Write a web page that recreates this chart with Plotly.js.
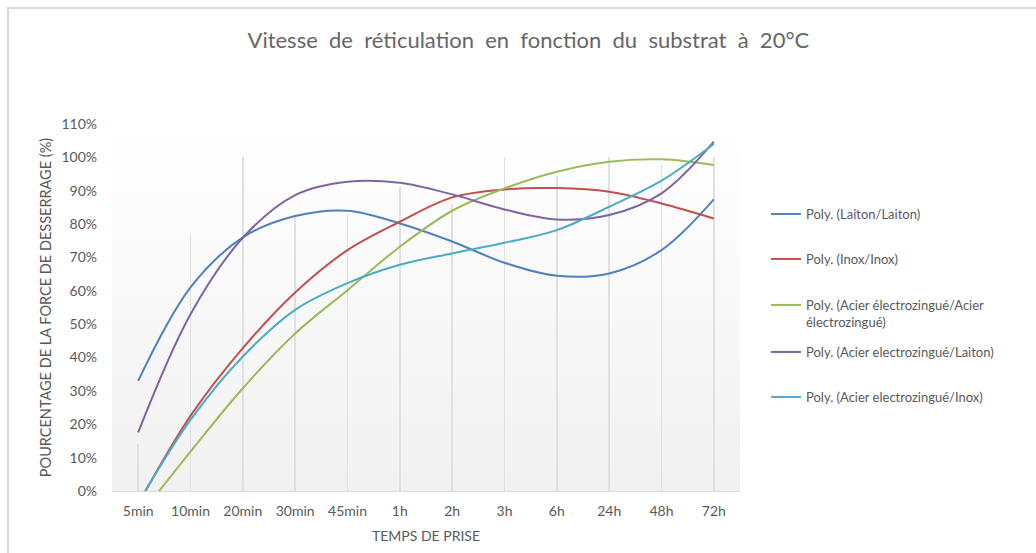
<!DOCTYPE html>
<html>
<head>
<meta charset="utf-8">
<script src="https://cdn.plot.ly/plotly-3.0.1.min.js"></script>
<style>
  html, body { margin: 0; padding: 0; background: #ffffff; }
  #frame { position: absolute; left: 7px; top: 7px; width: 1040px; height: 560px;
           border-left: 2px solid #d9d9d9; border-top: 2px solid #d9d9d9; pointer-events: none; z-index: 5; }
  #chart { position: absolute; left: 0; top: 0; width: 1036px; height: 553px; }
</style>
</head>
<body>
<div id="chart"></div>
<div id="frame"></div>
<script>
// Categories (x axis)
const categories = ["5min", "10min", "20min", "30min", "45min", "1h", "2h", "3h", "6h", "24h", "48h", "72h"];

// Light gray vertical columns (%)
const columnValues = [14, 77, 100, 82, 83, 91, 86, 100, 94.5, 100, 98, 100];

// Polynomial trendlines (%)
const laitonLaiton   = [33, 61, 76, 82.4, 84, 80.2, 74.8, 68.4, 64.5, 65.2, 72.2, 87.4];
const inoxInox       = [-4, 22.5, 42.8, 59.5, 72.2, 80.7, 88, 90.4, 90.8, 89.7, 86.2, 81.7];
const acierAcier     = [-8, 11.8, 30.8, 47.2, 60.2, 73.2, 84, 90.7, 95.7, 98.7, 99.4, 97.7];
const acierLaiton    = [17.6, 53, 75.9, 88.7, 92.7, 92.4, 88.9, 84.4, 81.4, 82.7, 89.2, 104.7];
const acierInox      = [-3.5, 21.3, 40.3, 54.3, 62.3, 67.8, 71.2, 74.4, 78.2, 85.2, 93, 104];

const seriesNames = [
  "Poly. (Laiton/Laiton)",
  "Poly. (Inox/Inox)",
  "Poly. (Acier électrozingué/Acier<br>électrozingué)",
  "Poly. (Acier electrozingué/Laiton)",
  "Poly. (Acier electrozingué/Inox)"
];
const seriesValues = [laitonLaiton, inoxInox, acierAcier, acierLaiton, acierInox];
const seriesColors = ["#4F81BD", "#C0504D", "#9BBB59", "#8064A2", "#4BACC6"];
const legendIds = ["legend", "legend2", "legend3", "legend4", "legend5"];
const legendY = [0.7956, 0.6730, 0.5477, 0.4196, 0.2970];

const FONT = "Lato, 'Open Sans', sans-serif";
const GREY = "#595959";

const traces = [{
  type: "bar",
  x: categories,
  y: columnValues,
  width: 0.034,
  marker: { color: "#e0e0e0", line: { width: 0 } },
  showlegend: false,
  hoverinfo: "skip"
}];

seriesValues.forEach((vals, i) => {
  traces.push({
    type: "scatter",
    mode: "lines",
    x: categories,
    y: vals,
    name: seriesNames[i],
    legend: legendIds[i],
    line: { color: seriesColors[i], width: 2, shape: "spline", smoothing: 1 },
    hoverinfo: "skip"
  });
});

const gradSvg = "<svg xmlns='http://www.w3.org/2000/svg' width='100' height='100' preserveAspectRatio='none'>" +
  "<defs><linearGradient id='g' x1='0' y1='0' x2='0' y2='1'>" +
  "<stop offset='0' stop-color='#ffffff'/><stop offset='1' stop-color='#f1f1f1'/></linearGradient></defs>" +
  "<rect width='100' height='100' fill='url(#g)'/></svg>";

const layout = {
  width: 1036,
  height: 553,
  margin: { l: 112, r: 296, t: 124, b: 62 },
  paper_bgcolor: "rgba(0,0,0,0)",
  plot_bgcolor: "rgba(0,0,0,0)",
  font: { family: FONT, color: GREY, size: 13 },
  title: {
    text: "Vitesse  de  réticulation  en  fonction  du  substrat  à  20°C",
    font: { family: FONT, size: 22, color: "#666666" },
    x: 0.51, xanchor: "center", xref: "container",
    y: 0.927, yanchor: "middle", yref: "container"
  },
  xaxis: {
    type: "category",
    categoryorder: "array",
    categoryarray: categories,
    range: [-0.5, 11.5],
    showgrid: false,
    zeroline: false,
    showline: true,
    linecolor: "#d9d9d9",
    linewidth: 1,
    ticks: "",
    ticklabelstandoff: 7,
    tickfont: { family: FONT, size: 14, color: GREY },
    title: { text: "TEMPS DE PRISE", font: { family: FONT, size: 14, color: GREY }, standoff: 13 },
    fixedrange: true
  },
  yaxis: {
    range: [0, 110],
    tickvals: [0, 10, 20, 30, 40, 50, 60, 70, 80, 90, 100, 110],
    ticktext: ["0%", "10%", "20%", "30%", "40%", "50%", "60%", "70%", "80%", "90%", "100%", "110%"],
    showgrid: false,
    zeroline: false,
    showline: false,
    ticks: "",
    ticklabelstandoff: 14,
    tickfont: { family: FONT, size: 14, color: GREY },
    title: { text: "POURCENTAGE DE LA FORCE DE DESSERRAGE (%)", font: { family: FONT, size: 14.5, color: GREY }, standoff: 6 },
    fixedrange: true
  },
  showlegend: true,
  bargap: 0,
  images: [{
    source: "data:image/svg+xml;charset=utf-8," + encodeURIComponent(gradSvg),
    xref: "paper", yref: "paper",
    x: 0, y: 1, sizex: 1, sizey: 1,
    xanchor: "left", yanchor: "top",
    sizing: "stretch",
    layer: "below"
  }]
};

legendIds.forEach((id, i) => {
  layout[id] = {
    x: 1.0414, xanchor: "left",
    y: legendY[i], yanchor: "top",
    valign: "top",
    bgcolor: "rgba(0,0,0,0)",
    font: { family: FONT, size: 13, color: GREY }
  };
});

Plotly.newPlot("chart", traces, layout, { displayModeBar: false, staticPlot: true });
</script>
</body>
</html>
